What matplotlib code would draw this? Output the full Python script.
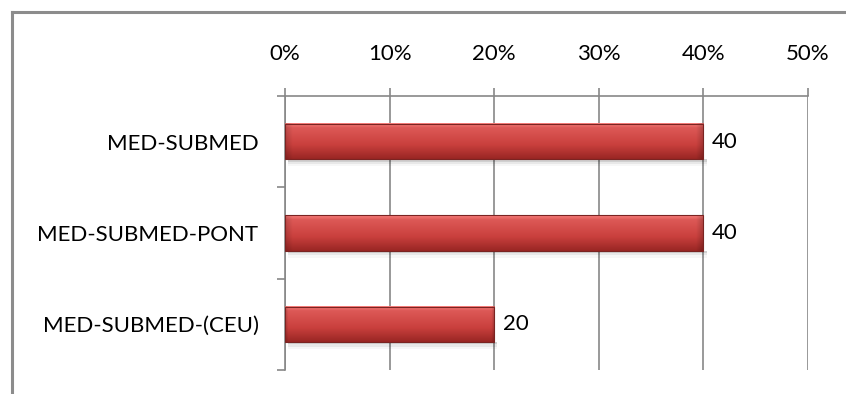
import matplotlib
matplotlib.use("Agg")
import matplotlib.pyplot as plt
import numpy as np
from matplotlib.ticker import FixedLocator, FuncFormatter

categories = ["MED-SUBMED", "MED-SUBMED-PONT", "MED-SUBMED-(CEU)"]
values = [40, 40, 20]
x_ticks = [0, 10, 20, 30, 40, 50]

plt.rcParams["font.family"] = ["Lato", "DejaVu Sans"]
grid_color = "#878787"


def bar_image(n_cols, n_rows=60):
    # vertical shading: light rim on top, darker towards the bottom
    t = np.linspace(0, 1, n_rows)
    top = np.array([0.98, 0.50, 0.49])
    mid = np.array([0.79, 0.25, 0.24])
    low = np.array([0.60, 0.15, 0.14])
    col = np.empty((n_rows, 3))
    for i, v in enumerate(t):
        if v < 0.12:
            col[i] = top + (mid - top) * (v / 0.12) * 0.6
        elif v < 0.6:
            col[i] = top + (mid - top) * (0.6 + 0.4 * (v - 0.12) / 0.48)
        else:
            col[i] = mid + (low - mid) * ((v - 0.6) / 0.4)
    img = np.repeat(col[:, None, :], n_cols, axis=1)
    # bevelled ends
    edge = max(3, int(n_cols * 0.02))
    fade = np.ones(n_cols)
    fade[:edge] = np.linspace(0.85, 1, edge)
    fade[-edge:] = np.linspace(1, 0.8, edge)
    return np.clip(img * fade[None, :, None], 0, 1)


fig = plt.figure(figsize=(8.46, 3.94), dpi=100)
fig.patch.set_facecolor("white")

# outer chart frame (top and left edges only are visible)
fig.add_artist(plt.Line2D([12 / 846, 1], [1 - 12 / 394, 1 - 12 / 394],
                          transform=fig.transFigure, color="#8c8c8c", lw=2.2))
fig.add_artist(plt.Line2D([12 / 846, 12 / 846], [0, 1 - 12 / 394],
                          transform=fig.transFigure, color="#8c8c8c", lw=2.2))

ax = fig.add_axes([285 / 846, 1 - 370 / 394, (808 - 285) / 846, (370 - 96) / 394])

bar_h = 0.39
pos = np.arange(len(categories))
for y, v in zip(pos, values):
    # soft shadow under the bar
    for k, a in enumerate([0.10, 0.06, 0.03]):
        ax.fill_between([0.3, v + 0.3], y + bar_h / 2, y + bar_h / 2 + 0.025 * (k + 1),
                        color="black", alpha=a, lw=0, zorder=2)
    ax.imshow(bar_image(int(v * 10)), extent=(0, v, y + bar_h / 2, y - bar_h / 2),
              origin="upper", aspect="auto", zorder=3, interpolation="bilinear")
    ax.add_patch(plt.Rectangle((0, y - bar_h / 2), v, bar_h, fill=False,
                               ec="#7a2422", lw=0.8, zorder=4))
    ax.text(v + 0.8, y, f"{v}", va="center", ha="left", fontsize=16, color="black")

ax.set_xlim(0, 50)
ax.set_ylim(2.5, -0.5)

ax.xaxis.set_major_locator(FixedLocator(x_ticks))
ax.xaxis.set_major_formatter(FuncFormatter(lambda x, p: f"{int(x)}%"))
ax.xaxis.tick_top()
ax.tick_params(axis="x", which="major", direction="out", length=6, width=1.2,
               color=grid_color, pad=17, labelsize=16)
ax.grid(axis="x", color=grid_color, lw=1.2, zorder=1)

ax.yaxis.set_major_locator(FixedLocator(pos))
ax.set_yticklabels(categories)
ax.yaxis.set_minor_locator(FixedLocator([-0.5, 0.5, 1.5, 2.5]))
ax.tick_params(axis="y", which="major", length=0, pad=19, labelsize=16)
ax.tick_params(axis="y", which="minor", direction="out", length=6, width=1.2,
               color=grid_color)

for s in ["right", "bottom"]:
    ax.spines[s].set_visible(False)
for s in ["top", "left"]:
    ax.spines[s].set_color(grid_color)
    ax.spines[s].set_linewidth(1.2)
ax.set_axisbelow(True)

fig.savefig("out.png", dpi=100, facecolor="white")
